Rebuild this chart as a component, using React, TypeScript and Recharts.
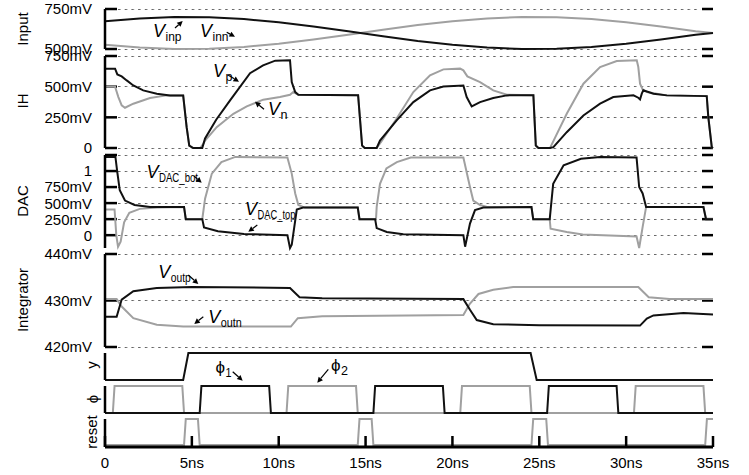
import React from 'react';
import { LineChart, Line, XAxis, YAxis } from 'recharts';

type P = [number, number];

// ---------- Input panel (mV) ----------
const vinp: P[] = [[0,674],[2,691],[4,700],[6,698],[8,687],[10,667],[12,641],[14,611],[16,580],[18,550],[20,526],[22,509],[24,500],[26,502],[28,513],[30,533],[32,559],[34,589],[35,600]];
const vinn: P[] = [[0,526],[2,509],[4,500],[6,502],[8,513],[10,533],[12,559],[14,589],[16,620],[18,650],[20,674],[22,691],[24,700],[26,698],[28,687],[30,667],[32,641],[34,611],[35,600]];

// ---------- IH panel (mV) ----------
const vp: P[] = [[0,647],[0.58,647],[0.71,600],[0.96,584],[1.25,551],[1.63,510],[2.2,470],[2.98,443],[3.74,429],[4.5,429],
[4.7,170],[4.85,20],[5.08,0],[5.6,0],[5.76,78],[6.4,230],[7.2,388],[8.35,610],[9.1,674],[9.8,712],[10.65,715],[10.75,537],[10.95,456],[11.13,434],[14.57,430],
[14.7,200],[14.8,20],[14.95,0],[15.64,0],[15.83,61],[16.79,225],[17.75,374],[18.71,470],[19.48,502],[20.63,510],[20.82,415],[21.11,339],[21.59,374],[22.35,407],[23.13,429],[24.66,430],
[24.8,20],[24.95,0],[25.62,0],[25.81,7],[26.58,129],[27.54,265],[28.5,361],[29.26,415],[30.42,429],[30.7,410],[30.8,396],[30.9,443],[30.99,470],[31.57,443],[32.34,429],[34.64,423],[34.73,252],[34.93,7],[35,0]];
const vn: P[] = [[0,500],[0.58,500],[0.77,415],[0.96,347],[1.15,328],[1.63,361],[2.59,407],[3.55,429],[4.5,429],[4.7,170],[4.85,20],[5.08,0],[5.47,0],[5.66,34],[5.76,61],[6.43,170],[7.39,279],[8.16,339],[9.11,394],[10.07,415],[10.65,434],[10.84,456],[11.13,434],[14.57,430],
[14.7,200],[14.8,20],[14.95,0],[15.64,0],[15.93,57],[16.79,240],[17.75,456],[18.71,592],[19.48,641],[20.44,647],[20.63,633],[20.86,584],[21.59,537],[22.35,470],[23.13,435],[24.66,430],
[24.8,20],[24.95,0],[25.62,0],[25.72,30],[26.58,279],[27.54,524],[28.5,660],[29.46,709],[30.61,715],[30.7,660],[30.8,524],[30.96,475],[31.19,456],[32.34,429],[34.64,423],[34.73,252],[34.93,7],[35,0]];

// ---------- DAC panel (V) ----------
const vdacTop: P[] = [[0,1.22],[0.6,1.22],[0.7,1.0],[0.85,0.7],[1.15,0.54],[1.7,0.47],[2.6,0.44],[4.55,0.44],[4.65,0.25],[5.6,0.25],[5.7,0.12],[6.5,0.06],[8,0.02],[10.5,0.0],[10.65,-0.2],[10.75,-0.15],[11.04,0.4],[11.4,0.43],[14.55,0.43],[14.65,0.25],[15.55,0.25],[15.64,0.11],[16.22,0.05],[17.17,0.015],[20.63,0.0],[20.73,-0.18],[21.01,0.18],[21.3,0.39],[21.78,0.43],[24.55,0.44],[24.65,0.25],[25.6,0.25],[25.8,0.8],[26.4,1.09],[27.4,1.19],[28.5,1.22],[30.6,1.21],[30.75,0.75],[30.95,0.65],[31.15,0.44],[34.45,0.44],[34.6,0.25],[35,0.25]];
const vdacBot: P[] = [[0,0.4],[0.55,0.4],[0.65,0.0],[0.75,-0.18],[0.9,-0.1],[1.1,0.2],[1.4,0.35],[2.0,0.41],[3,0.43],[4.55,0.44],[4.65,0.25],[5.6,0.25],[5.76,0.57],[6.15,0.96],[6.7,1.14],[7.5,1.22],[10.5,1.21],[10.75,0.96],[10.95,0.65],[11.13,0.47],[11.5,0.43],[14.55,0.43],[14.65,0.25],[15.6,0.25],[15.64,0.44],[15.83,0.8],[16.2,1.04],[16.8,1.14],[17.6,1.21],[20.63,1.21],[21.01,0.75],[21.2,0.54],[21.59,0.47],[22,0.44],[24.55,0.44],[24.65,0.25],[25.6,0.25],[25.65,0.1],[26.58,0.05],[27.5,0.01],[30.6,-0.02],[30.75,-0.2],[30.95,0.13],[31.15,0.44],[34.45,0.44],[34.6,0.25],[35,0.25]];

// ---------- Integrator panel (mV) ----------
const voutp: P[] = [[0,426.5],[0.67,426.5],[0.96,430.2],[1.63,432],[2.98,432.7],[5,432.9],[10.65,432.7],[11.2,430.7],[12.5,430.5],[20.63,430.3],[21.01,428],[21.4,425.8],[22.35,424.9],[25,424.7],[30.8,424.6],[31.19,426.1],[31.57,426.8],[33.3,427.3],[35,427]];
const voutn: P[] = [[0,430.3],[0.67,430.3],[0.96,428.7],[1.63,426.2],[2.98,424.8],[4.5,424.4],[10.7,424.4],[11.1,426.2],[12.5,426.6],[20.63,426.9],[21.0,429.3],[21.5,431.4],[22.35,432.3],[23.5,432.9],[30.7,432.9],[31.3,430.7],[32.5,430.3],[35,430.3]];

// ---------- digital panels ----------
const ySig: P[] = [[0,0],[4.5,0],[4.8,1],[24.5,1],[24.85,0],[35,0]];
const phi1: P[] = [[0,0],[5.45,0],[5.55,1],[9.45,1],[9.55,0],[15.45,0],[15.55,1],[19.45,1],[19.55,0],[25.45,0],[25.55,1],[29.45,1],[29.55,0],[35,0]];
const phi2: P[] = [[0,0],[0.45,0],[0.55,1],[4.45,1],[4.55,0],[10.45,0],[10.55,1],[14.45,1],[14.55,0],[20.45,0],[20.55,1],[24.45,1],[24.55,0],[30.45,0],[30.55,1],[34.45,1],[34.55,0],[35,0]];
const resetSig: P[] = [[0,0.07],[4.55,0.07],[4.65,1],[5.35,1],[5.45,0.07],[14.55,0.07],[14.65,1],[15.35,1],[15.45,0.07],[24.55,0.07],[24.65,1],[25.4,1],[25.5,0.07],[34.55,0.07],[34.65,1],[35,1]];

// ---------- ticks ----------
const xTicks = [0, 5, 10, 15, 20, 25, 30, 35];
const xLabels = ['0', '5ns', '10ns', '15ns', '20ns', '25ns', '30ns', '35ns'];
const inTicks = [500, 750];
const inLabels = ['500mV', '750mV'];
const ihTicks = [0, 250, 500, 750];
const ihLabels = ['0', '250mV', '500mV', '750mV'];
const dacTicks = [0, 0.25, 0.5, 0.75, 1, 1.25];
const dacLabels = ['0', '250mV', '500mV', '750mV', '1', ''];
const intTicks = [420, 430, 440];
const intLabels = ['420mV', '430mV', '440mV'];

const FONT = '"Liberation Sans", Arial, Helvetica, sans-serif';
const BLACK = '#111';
const GRAY = '#a0a0a0';
const W = 749;
const X0 = 105;
const X1 = 713;
const PAD = 14;

// analog panel layout (plot-area top/bottom in page pixels)
const analogPanels: { top: number; bottom: number; domain: [number, number]; ticks: number[] }[] = [
  { top: 9, bottom: 49, domain: [500, 750], ticks: inTicks },
  { top: 56, bottom: 148, domain: [0, 750], ticks: ihTicks },
  { top: 155, bottom: 248, domain: [-0.2, 1.25], ticks: dacTicks },
  { top: 254, bottom: 347, domain: [420, 440], ticks: intTicks },
];

const toData = (s: P[]) => s.map(([t, v]) => ({ t, v }));

interface Series { data: P[]; color: string; }
interface PanelProps {
  top: number; bottom: number; domain: [number, number];
  ticks?: number[]; labels?: string[]; series: Series[]; xAxis?: boolean; analog?: boolean;
}

function Panel(p: PanelProps) {
  const plotH = p.bottom - p.top;
  const XH = 30;
  const h = plotH + PAD + (p.xAxis ? XH : PAD);
  const ticks = p.ticks ?? [];
  const labels = p.labels ?? [];
  const base = plotH + PAD;
  const leftTick = (props: any) => {
    const { y, payload } = props;
    const i = ticks.indexOf(payload.value);
    const lbl = i >= 0 ? labels[i] : '';
    return (
      <text x={92} y={y} dy="0.36em" fontSize={15} fontFamily={FONT} textAnchor="end" fill="#000">{lbl}</text>
    );
  };
  const xTick = (props: any) => {
    const { x, payload } = props;
    const i = xTicks.indexOf(payload.value);
    return (
      <g>
        <line x1={x} x2={x} y1={base} y2={base - 11} stroke="#000" strokeWidth={2.5} />
        <text x={x} y={base + 21} textAnchor="middle" fontSize={15} fontFamily={FONT} fill="#000">{xLabels[i]}</text>
      </g>
    );
  };
  const lines = p.series.map((s, i) => (
    <Line key={'s' + i} yAxisId="l" data={toData(s.data)} dataKey="v" dot={false}
      stroke={s.color} strokeWidth={2} isAnimationActive={false} />
  ));
  return (
    <div style={{ position: 'absolute', left: 0, top: p.top - PAD, width: W, height: h }}>
      <LineChart width={W} height={h} margin={{ top: PAD, bottom: p.xAxis ? 0 : PAD, left: 45, right: 36 }}>
        {p.xAxis ? (
          <XAxis type="number" dataKey="t" domain={[0, 35]} ticks={xTicks} interval={0} height={XH}
            axisLine={{ stroke: '#000', strokeWidth: 3 }} tickLine={false} tick={xTick} />
        ) : (
          <XAxis type="number" dataKey="t" domain={[0, 35]} hide />
        )}
        {p.analog ? (
          <YAxis yAxisId="l" width={60} type="number" domain={p.domain} ticks={ticks} interval={0}
            axisLine={{ stroke: '#000', strokeWidth: 2.5 }} tickLine={false} tick={leftTick} />
        ) : (
          <YAxis yAxisId="l" width={60} type="number" domain={p.domain}
            axisLine={{ stroke: '#000', strokeWidth: 2.5 }} tickLine={false} tick={false} />
        )}
        {lines}
      </LineChart>
    </div>
  );
}

// grid lines and inward tick marks, placed from the same tick arrays and panel layout
function Underlay() {
  const items: React.ReactNode[] = [];
  analogPanels.forEach((pn, pi) => {
    const [lo, hi] = pn.domain;
    pn.ticks.forEach((v, ti) => {
      const yy = pn.top + ((hi - v) / (hi - lo)) * (pn.bottom - pn.top);
      const yr = Math.round(yy - 0.5);
      items.push(<rect key={`g${pi}-${ti}`} x={X0 + 13} y={yr} width={X1 - 12 - (X0 + 13)} height={1} fill="url(#gridDots)" />);
      items.push(<rect key={`l${pi}-${ti}`} x={X0} y={yy - 1.25} width={12} height={2.5} fill="#000" />);
      items.push(<rect key={`r${pi}-${ti}`} x={X1 - 11} y={yy - 1.25} width={11} height={2.5} fill="#000" />);
    });
  });
  return (
    <svg width={W} height={475} style={{ position: 'absolute', left: 0, top: 0, pointerEvents: 'none' }}>
      <defs>
        <pattern id="gridDots" x={X0 + 13} y={0} width={6.7} height={475} patternUnits="userSpaceOnUse">
          <rect x={0} y={0} width={2.5} height={475} fill="#666" />
        </pattern>
      </defs>
      {items}
    </svg>
  );
}

function Annot({ x, y, main, sub, subW, italic = true, size = 18, subSize = 12, subDy = 4 }:
  { x: number; y: number; main: string; sub: string; subW: number; italic?: boolean; size?: number; subSize?: number; subDy?: number }) {
  return (
    <text x={x} y={y} fontFamily={FONT} fill="#000">
      <tspan fontSize={size} fontStyle={italic ? 'italic' : 'normal'}>{main}</tspan>
      <tspan fontSize={subSize} dy={subDy} dx={0.5} textLength={subW} lengthAdjust="spacingAndGlyphs">{sub}</tspan>
    </text>
  );
}

const arrows: [number, number, number, number][] = [
  [175, 28, 182.7, 21],
  [226.7, 32.3, 235, 36.7],
  [228, 75, 239, 81.7],
  [264, 109.3, 255, 101.7],
  [194, 176, 201.7, 182.7],
  [257.3, 225, 248.3, 231.7],
  [188.3, 275, 198.3, 284],
  [203.3, 316.7, 194.3, 324],
  [232.7, 371.7, 242.7, 380.7],
  [328.3, 369.3, 317.3, 382.7],
];

function Arrow({ x1, y1, x2, y2 }: { x1: number; y1: number; x2: number; y2: number }) {
  const dx = x2 - x1, dy = y2 - y1;
  const L = Math.hypot(dx, dy) || 1;
  const ux = dx / L, uy = dy / L;
  const hl = 5.5, hw = 2.8;
  const bx = x2 - ux * hl, by = y2 - uy * hl;
  const pts = `${x2},${y2} ${bx - uy * hw},${by + ux * hw} ${bx + uy * hw},${by - ux * hw}`;
  return (
    <g>
      <line x1={x1} y1={y1} x2={bx} y2={by} stroke="#000" strokeWidth={1.2} />
      <polygon points={pts} fill="#000" />
    </g>
  );
}

function Overlay() {
  const rot = (txt: string, cx: number, cy: number) => (
    <text x={cx} y={cy} textAnchor="middle" dominantBaseline="central" fontSize={15} fontFamily={FONT}
      fill="#000" transform={`rotate(-90 ${cx} ${cy})`}>{txt}</text>
  );
  return (
    <svg width={W} height={475} style={{ position: 'absolute', left: 0, top: 0, pointerEvents: 'none' }}>
      {rot('Input', 22, 29)}
      {rot('IH', 22, 101)}
      {rot('DAC', 22, 201)}
      {rot('Integrator', 22, 300)}
      {rot('y', 91, 365)}
      {rot('ϕ', 92, 399)}
      {rot('reset', 91, 432)}
      <Annot x={153} y={37} main="V" sub="inp" subW={16} />
      <Annot x={200} y={37} main="V" sub="inn" subW={16} />
      <Annot x={213} y={76.5} main="V" sub="p" subW={7} />
      <Annot x={268} y={115} main="V" sub="n" subW={7} />
      <Annot x={146.5} y={178} main="V" sub="DAC_bot" subW={39} />
      <Annot x={245} y={215} main="V" sub="DAC_top" subW={38} />
      <Annot x={158.3} y={278} main="V" sub="outp" subW={20} />
      <Annot x={208.3} y={323} main="V" sub="outn" subW={21} />
      <Annot x={215.5} y={373} main="ϕ" sub="1" subW={6} italic={false} size={17} subSize={12} subDy={4} />
      <Annot x={331} y={371} main="ϕ" sub="2" subW={7} italic={false} size={17} subSize={12} subDy={4} />
      {arrows.map(([x1, y1, x2, y2], i) => (
        <Arrow key={i} x1={x1} y1={y1} x2={x2} y2={y2} />
      ))}
    </svg>
  );
}

export default function App() {
  const [inP, ihP, dacP, intP] = analogPanels;
  return (
    <div style={{ position: 'absolute', left: 0, top: 0, width: W, height: 475, background: '#fff' }}>
      <Underlay />
      <Panel top={inP.top} bottom={inP.bottom} domain={inP.domain} ticks={inTicks} labels={inLabels} analog
        series={[{ data: vinn, color: GRAY }, { data: vinp, color: BLACK }]} />
      <Panel top={ihP.top} bottom={ihP.bottom} domain={ihP.domain} ticks={ihTicks} labels={ihLabels} analog
        series={[{ data: vn, color: GRAY }, { data: vp, color: BLACK }]} />
      <Panel top={dacP.top} bottom={dacP.bottom} domain={dacP.domain} ticks={dacTicks} labels={dacLabels} analog
        series={[{ data: vdacBot, color: GRAY }, { data: vdacTop, color: BLACK }]} />
      <Panel top={intP.top} bottom={intP.bottom} domain={intP.domain} ticks={intTicks} labels={intLabels} analog
        series={[{ data: voutn, color: GRAY }, { data: voutp, color: BLACK }]} />
      <Panel top={353} bottom={380} domain={[0, 1]} series={[{ data: ySig, color: BLACK }]} />
      <Panel top={386} bottom={413} domain={[0, 1]}
        series={[{ data: phi2, color: GRAY }, { data: phi1, color: BLACK }]} />
      <Panel top={419} bottom={447} domain={[0, 1]} xAxis series={[{ data: resetSig, color: GRAY }]} />
      <Overlay />
    </div>
  );
}
